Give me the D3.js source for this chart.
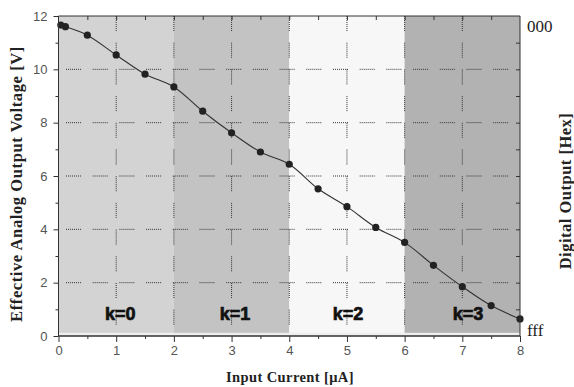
<!DOCTYPE html>
<html>
<head>
<meta charset="utf-8">
<script src="https://cdn.jsdelivr.net/npm/d3@7"></script>
<style>
  body { margin: 0; background: #fff; }
  svg { display: block; }
  .tick text { font-family: "Liberation Sans", Arial, sans-serif; font-size: 13px; fill: #555; }
  .axis path, .axis line { stroke: #333; }
  .grid line { stroke: #333; stroke-width: 1; }
</style>
</head>
<body>
<svg id="chart" width="574" height="387"></svg>
<script>
// data
const current = [0.04, 0.12, 0.5, 1, 1.5, 2, 2.5, 3, 3.5, 4, 4.5, 5, 5.5, 6, 6.5, 7, 7.5, 8];
const voltage = [11.66, 11.6, 11.28, 10.54, 9.82, 9.34, 8.43, 7.62, 6.9, 6.44, 5.52, 4.85, 4.07, 3.51, 2.65, 1.85, 1.14, 0.64];
const bandStart = [0, 2, 4, 6];
const bandEnd = [2, 4, 6, 8];
const bandLabels = ["k=0", "k=1", "k=2", "k=3"];
const bandLabelX = [1.07, 3.06, 5.02, 7.1];
const bandColors = ["#d3d3d3", "#c3c3c3", "#f7f7f7", "#b2b2b2"];
const xTicks = [0, 1, 2, 3, 4, 5, 6, 7, 8];
const yTicks = [0, 2, 4, 6, 8, 10, 12];
const hexLabels = ["000", "fff"];

const main = () => {
  const svg = d3.select("#chart");
  const x = d3.scaleLinear().domain([0, 8]).range([58.5, 520]);
  const y = d3.scaleLinear().domain([0, 12]).range([336, 16]);

  // background strip under the bands
  svg.append("rect")
    .attr("x", x(0)).attr("y", y(12))
    .attr("width", x(8) - x(0)).attr("height", y(0) - y(12))
    .attr("fill", "#efefef");

  // k bands
  svg.append("g").selectAll("rect")
    .data(bandStart)
    .enter()
    .append("rect")
    .attr("x", (d) => x(d))
    .attr("y", y(12))
    .attr("width", (d, i) => x(bandEnd[i]) - x(d))
    .attr("height", y(0.12) - y(12))
    .attr("fill", (d, i) => bandColors[i]);

  // dotted grid, broken into short runs like the original
  const dash = "1 1 1 1 1 1 1 1 1 1 1 1 1 1 1 11.7";
  const grid = svg.append("g").attr("class", "grid");
  grid.selectAll("line.h")
    .data([2, 4, 6, 8, 10])
    .enter()
    .append("line")
    .attr("class", "h")
    .attr("x1", x(0)).attr("x2", x(8))
    .attr("y1", (d) => y(d)).attr("y2", (d) => y(d))
    .attr("stroke-dasharray", dash)
    .attr("stroke-dashoffset", 19.2);
  grid.selectAll("line.v")
    .data([1, 2, 3, 4, 5, 6, 7])
    .enter()
    .append("line")
    .attr("class", "v")
    .attr("y1", y(12)).attr("y2", y(0))
    .attr("x1", (d) => x(d)).attr("x2", (d) => x(d))
    .attr("stroke-dasharray", dash)
    .attr("stroke-dashoffset", 0);

  // band labels
  svg.append("g").selectAll("text")
    .data(bandLabels)
    .enter()
    .append("text")
    .attr("x", (d, i) => x(bandLabelX[i]))
    .attr("y", 319.5)
    .attr("text-anchor", "middle")
    .attr("font-family", "Liberation Sans, Arial, sans-serif")
    .attr("font-weight", "bold")
    .attr("font-size", 18)
    .attr("fill", "#111")
    .attr("stroke", "#111")
    .attr("stroke-width", 0.7)
    .text((d) => d);

  // curve and points
  const pts = current.map((c, i) => [c, voltage[i]]);
  const line = d3.line()
    .x((d) => x(d[0]))
    .y((d) => y(d[1]))
    .curve(d3.curveCatmullRom);
  svg.append("path")
    .datum(pts)
    .attr("d", line)
    .attr("fill", "none")
    .attr("stroke", "#333")
    .attr("stroke-width", 1.1);
  svg.append("g").selectAll("circle")
    .data(pts)
    .enter()
    .append("circle")
    .attr("cx", (d) => x(d[0]))
    .attr("cy", (d) => y(d[1]))
    .attr("r", 3.6)
    .attr("fill", "#222");

  // axes
  const gBottom = svg.append("g").attr("class", "axis").attr("transform", `translate(0,${y(0)})`);
  gBottom.call(d3.axisBottom(x).tickValues(xTicks).tickSize(6).tickPadding(4).tickFormat(d3.format("d")));
  gBottom.append("g").call(d3.axisBottom(x).tickValues(d3.range(0.5, 8, 1)).tickSize(3).tickFormat(""));
  gBottom.selectAll(".domain").attr("d", `M${x(0)},0H${x(8)}`);

  const gLeft = svg.append("g").attr("class", "axis").attr("transform", `translate(${x(0)},0)`);
  gLeft.call(d3.axisLeft(y).tickValues(yTicks).tickSize(5).tickPadding(6).tickFormat(d3.format("d")));
  gLeft.append("g").call(d3.axisLeft(y).tickValues(d3.range(1, 12, 2)).tickSize(3).tickFormat(""));
  gLeft.selectAll(".domain").attr("d", `M0,${y(12)}V${y(0)}`);

  const gTop = svg.append("g").attr("class", "axis").attr("transform", `translate(0,${y(12)})`);
  gTop.call(d3.axisTop(x).tickValues(d3.range(0.5, 8, 0.5)).tickSize(-4).tickFormat(""));
  gTop.selectAll(".domain").attr("d", `M${x(0)},0H${x(8)}`);

  const gRight = svg.append("g").attr("class", "axis").attr("transform", `translate(${x(8)},0)`);
  gRight.call(d3.axisRight(y).tickValues(d3.range(1, 12, 1)).tickSize(-4).tickFormat(""));
  gRight.selectAll(".domain").attr("d", `M0,${y(12)}V${y(0)}`);

  // hex labels on the right
  svg.append("g").selectAll("text")
    .data(hexLabels)
    .enter()
    .append("text")
    .attr("x", 527)
    .attr("y", (d, i) => (i === 0 ? 32 : 336))
    .attr("font-family", "Liberation Serif, Times New Roman, serif")
    .attr("font-size", 17)
    .attr("fill", "#222")
    .text((d) => d);

  // axis titles
  const serif = "Liberation Serif, Times New Roman, serif";
  svg.append("text")
    .attr("x", 290).attr("y", 382)
    .attr("text-anchor", "middle")
    .attr("font-family", serif).attr("font-weight", "bold").attr("font-size", 14.5)
    .attr("letter-spacing", 0.4)
    .attr("fill", "#222")
    .text("Input Current [\u03bcA]");
  svg.append("text")
    .attr("transform", "translate(22,184) rotate(-90)")
    .attr("text-anchor", "middle")
    .attr("font-family", serif).attr("font-weight", "bold").attr("font-size", 16.5)
    .attr("letter-spacing", 0.6)
    .attr("fill", "#222")
    .text("Effective Analog Output Voltage [V]");
  svg.append("text")
    .attr("transform", "translate(571,191) rotate(-90)")
    .attr("text-anchor", "middle")
    .attr("font-family", serif).attr("font-weight", "bold").attr("font-size", 16.5)
    .attr("letter-spacing", 0.5)
    .attr("fill", "#222")
    .text("Digital Output [Hex]");
};

main();
</script>
</body>
</html>
